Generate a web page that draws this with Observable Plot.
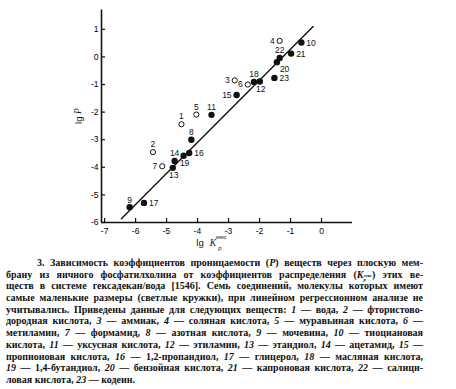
<!DOCTYPE html>
<html><head><meta charset="utf-8">
<script src="https://cdn.jsdelivr.net/npm/d3@7"></script>
<script src="https://cdn.jsdelivr.net/npm/@observablehq/plot@0.6"></script>
<style>
html,body{margin:0;padding:0;background:#fff}
body{width:456px;height:389px;overflow:hidden;position:relative}
#chart{position:absolute;left:0;top:0}
#cap{position:absolute;left:6px;top:257px;width:417px;font-family:"Liberation Serif","Times New Roman",serif;font-weight:bold;font-size:10px;line-height:11.7px;color:#111}
#cap .l{text-align:justify;text-align-last:justify;height:11.7px;overflow:visible}
#cap .last{text-align-last:left}
#cap .ind{text-indent:31px}
#cap i{font-style:italic}
#cap .ks{display:inline-flex;flex-direction:column;font-size:5px;line-height:4.6px;vertical-align:1px;font-style:italic;text-indent:0}
</style>
</head><body>
<div id="chart"></div>
<div id="cap">
<div class="l ind">3. Зависимость коэффициентов проницаемости (<i>P</i>) веществ через плоскую мем-</div>
<div class="l">брану из яичного фосфатилхолина от коэффициентов распределения (<i>K</i><span class="ks"><span>гекс</span><span>р</span></span>) этих ве-</div>
<div class="l">ществ в системе гексадекан/вода [1546]. Семь соединений, молекулы которых имеют</div>
<div class="l">самые маленькие размеры (светлые кружки), при линейном регрессионном анализе не</div>
<div class="l">учитывались. Приведены данные для следующих веществ: <i>1</i> — вода, <i>2</i> — фтористово-</div>
<div class="l">дородная кислота, <i>3</i> — аммиак, <i>4</i> — соляная кислота, <i>5</i> — муравьиная кислота, <i>6</i> —</div>
<div class="l">метиламин, <i>7</i> — формамид, <i>8</i> — азотная кислота, <i>9</i> — мочевина, <i>10</i> — тиоциановая</div>
<div class="l">кислота, <i>11</i> — уксусная кислота, <i>12</i> — этиламин, <i>13</i> — этандиол, <i>14</i> — ацетамид, <i>15</i> —</div>
<div class="l">пропионовая кислота, <i>16</i> — 1,2-пропандиол, <i>17</i> — глицерол, <i>18</i> — масляная кислота,</div>
<div class="l"><i>19</i> — 1,4-бутандиол, <i>20</i> — бензойная кислота, <i>21</i> — капроновая кислота, <i>22</i> — салици-</div>
<div class="l last">ловая кислота, <i>23</i> — кодеин.</div>
</div>
<script>
// ---- data ----
const ids    = [1, 2, 3, 4, 5, 6, 7, 8, 9, 10, 11, 12, 13, 14, 15, 16, 17, 18, 19, 20, 21, 22, 23];
const lgK    = [-4.52, -5.44, -2.80, -1.35, -4.04, -2.38, -5.14, -4.20, -6.19, -0.65, -3.55, -1.99, -4.80, -4.74, -2.74, -4.27, -5.73, -2.18, -4.45, -1.44, -0.98, -1.35, -1.52];
const lgP    = [-2.44, -3.45, -0.85, 0.58, -2.09, -1.00, -3.96, -3.00, -5.45, 0.52, -2.10, -0.89, -4.02, -3.77, -1.38, -3.48, -5.29, -0.91, -3.58, -0.19, 0.12, -0.04, -0.76];
const isOpen = [true, true, true, true, true, true, true, false, false, false, false, false, false, false, false, false, false, false, false, false, false, false, false];
const labelSide = ["n","n","w","w","n","w","w","n","n","e","n","s","s","n","w","e","e","n","s","se","e","n","e"];
// regression line end points
const fitK = [-6.46, -0.27];
const fitP = [-5.86, 1.10];
// axes
const xTicks = [-7, -6, -5, -4, -3, -2, -1, 0];
const yTicks = [1, 0, -1, -2, -3, -4, -5, -6];
const xDomain = [-7.1, 1.0];
const yDomain = [-6, 1.7];

const rows = ids.map((id, i) => ({id, x: lgK[i], y: lgP[i], open: isOpen[i], side: labelSide[i]}));
const fit = fitK.map((k, i) => ({x: k, y: fitP[i]}));

const lblFont = {fontSize: 8.5, fontFamily: "Liberation Sans, Arial, sans-serif", fill: "#111"};
const sides = {
  n:  {dx: 0, dy: -7.5, textAnchor: "middle"},
  s:  {dx: 1, dy: 7.5, textAnchor: "middle"},
  e:  {dx: 5, dy: 0.5, textAnchor: "start"},
  w:  {dx: -5, dy: 0, textAnchor: "end"},
  se: {dx: 3, dy: 7.5, textAnchor: "start"}
};

const plot = Plot.plot({
  width: 456,
  height: 252,
  marginLeft: 101,
  marginRight: 104,
  marginTop: 9.5,
  marginBottom: 30,
  style: {background: "transparent", overflow: "visible"},
  x: {domain: xDomain},
  y: {domain: yDomain},
  marks: [
    Plot.axisX(xTicks, {tickSize: -4, tickPadding: 9, tickFormat: d => String(d), fontSize: 8.5, fontFamily: "Liberation Sans, Arial, sans-serif", stroke: "#111", strokeWidth: 1.2, label: null}),
    Plot.axisY(yTicks, {tickSize: -4, tickPadding: 7, tickFormat: d => String(d), fontSize: 8.5, fontFamily: "Liberation Sans, Arial, sans-serif", stroke: "#111", strokeWidth: 1.2, label: null}),
    Plot.ruleX([xDomain[0]], {stroke: "#111", strokeWidth: 1.6}),
    Plot.ruleY([yDomain[0]], {stroke: "#111", strokeWidth: 1.6}),
    Plot.line(fit, {x: "x", y: "y", stroke: "#111", strokeWidth: 1.4}),
    Plot.dot(rows.filter(d => !d.open), {x: "x", y: "y", r: 3.2, fill: "#111", stroke: "none"}),
    Plot.dot(rows.filter(d => d.open), {x: "x", y: "y", r: 2.6, fill: "white", stroke: "#111", strokeWidth: 1}),
    ...Object.entries(sides).map(([k, o]) =>
      Plot.text(rows.filter(d => d.side === k), {x: "x", y: "y", text: d => String(d.id), ...o, ...lblFont}))
  ]
});

// axis titles
const svg = d3.select(plot);
const yl = svg.append("text")
  .attr("transform", "translate(79,116) rotate(-90)")
  .attr("text-anchor", "middle")
  .attr("dominant-baseline", "middle")
  .attr("font-family", "Liberation Sans, Arial, sans-serif")
  .attr("font-size", 9.5)
  .attr("fill", "#111");
yl.append("tspan").text("lg ");
yl.append("tspan").attr("font-style", "italic").attr("font-family", "Liberation Serif, serif").text("P");

const xl = svg.append("g")
  .attr("font-family", "Liberation Sans, Arial, sans-serif")
  .attr("fill", "#111");
xl.append("text").attr("x", 200).attr("y", 246).attr("font-size", 9.5).text("lg");
xl.append("text").attr("x", 213).attr("y", 246).attr("font-size", 9.5).attr("font-style", "italic").attr("font-family", "Liberation Serif, serif").text("K");
xl.append("text").attr("x", 221).attr("y", 239).attr("font-size", 5.5).attr("font-style", "italic").text("гекс");
xl.append("text").attr("x", 220).attr("y", 250).attr("font-size", 6).attr("font-style", "italic").text("р");

document.getElementById("chart").appendChild(plot);
</script>
</body></html>
